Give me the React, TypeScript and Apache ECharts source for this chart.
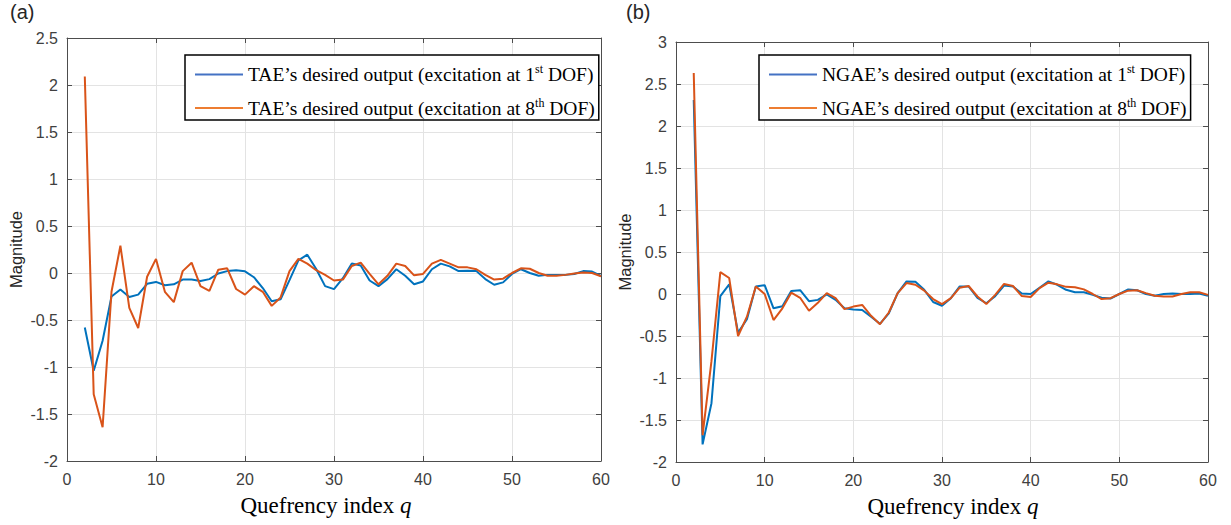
import React, { useEffect, useRef } from "react";
import * as echarts from "echarts";

const qIndex = [2, 3, 4, 5, 6, 7, 8, 9, 10, 11, 12, 13, 14, 15, 16, 17, 18, 19, 20, 21, 22, 23, 24, 25, 26, 27, 28, 29, 30, 31, 32, 33, 34, 35, 36, 37, 38, 39, 40, 41, 42, 43, 44, 45, 46, 47, 48, 49, 50, 51, 52, 53, 54, 55, 56, 57, 58, 59, 60];

const taeDof1 = [-0.58, -1.04, -0.72, -0.25, -0.175, -0.255, -0.23, -0.115, -0.095, -0.13, -0.12, -0.07, -0.07, -0.085, -0.065, -0.005, 0.02, 0.028, 0.018, -0.045, -0.16, -0.3, -0.28, -0.075, 0.135, 0.195, 0.042, -0.14, -0.172, -0.055, 0.1, 0.08, -0.08, -0.14, -0.065, 0.04, -0.03, -0.12, -0.09, 0.04, 0.1, 0.07, 0.02, 0.025, 0.02, -0.065, -0.125, -0.1, -0.01, 0.04, 0.0, -0.03, -0.02, -0.02, -0.02, -0.01, 0.02, 0.015, -0.03];
const taeDof8 = [2.09, -1.29, -1.64, -0.2, 0.29, -0.37, -0.585, -0.04, 0.15, -0.2, -0.31, 0.02, 0.11, -0.14, -0.19, 0.035, 0.05, -0.17, -0.23, -0.14, -0.2, -0.35, -0.26, 0.02, 0.15, 0.1, 0.03, -0.02, -0.08, -0.07, 0.075, 0.11, -0.01, -0.12, -0.03, 0.1, 0.075, -0.025, -0.01, 0.1, 0.14, 0.1, 0.06, 0.06, 0.04, -0.02, -0.07, -0.06, 0.0, 0.05, 0.045, 0.0, -0.03, -0.03, -0.02, -0.005, 0.005, 0.0, -0.035];
const ngaeDof1 = [2.31, -1.79, -1.3, -0.025, 0.115, -0.46, -0.3, 0.09, 0.105, -0.17, -0.145, 0.035, 0.045, -0.085, -0.07, -0.005, -0.07, -0.17, -0.185, -0.19, -0.27, -0.355, -0.23, 0.01, 0.15, 0.145, 0.05, -0.095, -0.14, -0.05, 0.09, 0.09, -0.045, -0.11, -0.025, 0.1, 0.09, 0.005, 0.0, 0.075, 0.15, 0.11, 0.05, 0.02, 0.02, -0.01, -0.045, -0.055, 0.0, 0.055, 0.045, 0.0, -0.02, 0.0, 0.005, 0.0, 0.0, 0.005, -0.02];
const ngaeDof8 = [2.63, -1.68, -0.8, 0.26, 0.19, -0.5, -0.27, 0.09, 0.0, -0.31, -0.17, 0.015, -0.045, -0.2, -0.105, 0.01, -0.05, -0.18, -0.15, -0.13, -0.26, -0.36, -0.22, 0.01, 0.13, 0.11, 0.04, -0.06, -0.12, -0.05, 0.075, 0.095, -0.03, -0.12, -0.01, 0.12, 0.095, -0.025, -0.035, 0.07, 0.135, 0.115, 0.085, 0.08, 0.055, 0.0, -0.06, -0.05, 0.0, 0.04, 0.045, 0.01, -0.02, -0.03, -0.03, 0.0, 0.02, 0.02, -0.01];

const taeNames = [
  "TAE\u2019s desired output (excitation at 1st DOF)",
  "TAE\u2019s desired output (excitation at 8th DOF)",
];
const ngaeNames = [
  "NGAE\u2019s desired output (excitation at 1st DOF)",
  "NGAE\u2019s desired output (excitation at 8th DOF)",
];
const panelLabels = ["(a)", "(b)"];
const yAxisTitle = "Magnitude";
const xAxisTitleText = "Quefrency index ";
const xAxisTitleVar = "q";

const lineColors = ["#0072BD", "#D95319"];
const legendColors = ["#4472C4", "#ED7D31"];

const sansFont = "Liberation Sans";
const serifFont = "Liberation Serif";
const axisColor = "#4d4d4d";
const labelColor = "#404040";
const gridColor = "#e3e3e3";

const legendRich = {
  n: { fontFamily: serifFont, fontSize: 19.5, lineHeight: 23, color: "#000" },
  s: { fontFamily: serifFont, fontSize: 12, lineHeight: 11, verticalAlign: "top", color: "#000" },
};

function legendFormatter(name: string) {
  const m = name.match(/^(.*\d)(st|th)(.*)$/);
  if (!m) return `{n|${name}}`;
  return `{n|${m[1]}}{s|${m[2]}}{n|${m[3]}}`;
}

function toPairs(values: number[]) {
  return qIndex.map((q, i) => [q, values[i]]);
}

export default function App() {
  const ref = useRef<HTMLDivElement>(null);

  useEffect(() => {
    if (!ref.current) return;
    const chart = echarts.init(ref.current, undefined, { renderer: "svg" });

    const grids = [
      { left: 67, top: 38, width: 534, height: 423 },
      { left: 676, top: 42, width: 532, height: 420 },
    ];
    const yRanges = [
      { min: -2, max: 2.5 },
      { min: -2, max: 3 },
    ];
    const titleShift = [
      [0, 16, 0, 0],
      [0, 0, 0, 22],
    ];

    const xAxes: any[] = [];
    const yAxes: any[] = [];
    grids.forEach((_, g) => {
      xAxes.push({
        type: "value",
        gridIndex: g,
        min: 0,
        max: 60,
        interval: 10,
        position: "bottom",
        name: `{n|${xAxisTitleText}}{i|${xAxisTitleVar}}`,
        nameLocation: "middle",
        nameGap: 33,
        nameTextStyle: {
          padding: titleShift[g],
          rich: {
            n: { fontFamily: serifFont, fontSize: 23, color: "#000" },
            i: { fontFamily: serifFont, fontSize: 23, fontStyle: "italic", color: "#000" },
          },
        },
        axisLine: { show: true, onZero: false, lineStyle: { color: axisColor, width: 1 } },
        axisTick: { show: true, inside: true, length: 5, lineStyle: { color: axisColor } },
        axisLabel: { color: labelColor, fontFamily: sansFont, fontSize: 16, margin: 10 },
        splitLine: { show: true, lineStyle: { color: gridColor, width: 1 } },
      });
      xAxes.push({
        type: "value",
        gridIndex: g,
        min: 0,
        max: 60,
        interval: 10,
        position: "top",
        axisLine: { show: true, onZero: false, lineStyle: { color: axisColor, width: 1 } },
        axisTick: { show: true, inside: true, length: 5, lineStyle: { color: axisColor } },
        axisLabel: { show: false },
        splitLine: { show: false },
      });
      yAxes.push({
        type: "value",
        gridIndex: g,
        min: yRanges[g].min,
        max: yRanges[g].max,
        interval: 0.5,
        position: "left",
        name: yAxisTitle,
        nameLocation: "middle",
        nameGap: 43,
        nameRotate: 90,
        nameTextStyle: { fontFamily: sansFont, fontSize: 16.5, color: "#262626" },
        axisLine: { show: true, onZero: false, lineStyle: { color: axisColor, width: 1 } },
        axisTick: { show: true, inside: true, length: 5, lineStyle: { color: axisColor } },
        axisLabel: { color: labelColor, fontFamily: sansFont, fontSize: 16, margin: 9 },
        splitLine: { show: true, lineStyle: { color: gridColor, width: 1 } },
      });
      yAxes.push({
        type: "value",
        gridIndex: g,
        min: yRanges[g].min,
        max: yRanges[g].max,
        interval: 0.5,
        position: "right",
        axisLine: { show: true, onZero: false, lineStyle: { color: axisColor, width: 1 } },
        axisTick: { show: true, inside: true, length: 5, lineStyle: { color: axisColor } },
        axisLabel: { show: false },
        splitLine: { show: false },
      });
    });

    const seriesDefs = [
      { name: taeNames[0], data: taeDof1, g: 0, c: 0 },
      { name: taeNames[1], data: taeDof8, g: 0, c: 1 },
      { name: ngaeNames[0], data: ngaeDof1, g: 1, c: 0 },
      { name: ngaeNames[1], data: ngaeDof8, g: 1, c: 1 },
    ];

    const legendBase = {
      orient: "vertical",
      itemWidth: 48,
      itemHeight: 2,
      itemGap: 12,
      icon: "rect",
      selectedMode: false,
      borderColor: "#000",
      borderWidth: 1.5,
      backgroundColor: "#fff",
      padding: [8, 4, 2, 10],
      formatter: legendFormatter,
      textStyle: { fontFamily: serifFont, fontSize: 19.5, color: "#000", rich: legendRich },
    };

    const option: any = {
      animation: false,
      backgroundColor: "#fff",
      grid: grids,
      xAxis: xAxes,
      yAxis: yAxes,
      legend: [
        {
          ...legendBase,
          left: 185,
          top: 55,
          data: taeNames.map((n, i) => ({ name: n, itemStyle: { color: legendColors[i] } })),
        },
        {
          ...legendBase,
          left: 759,
          top: 55,
          data: ngaeNames.map((n, i) => ({ name: n, itemStyle: { color: legendColors[i] } })),
        },
      ],
      graphic: [
        {
          type: "text",
          left: 10,
          top: 2,
          style: { text: panelLabels[0], fontFamily: sansFont, fontSize: 20, fill: "#262626" },
        },
        {
          type: "text",
          left: 626,
          top: 2,
          style: { text: panelLabels[1], fontFamily: sansFont, fontSize: 20, fill: "#262626" },
        },
      ],
      series: seriesDefs.map((s) => ({
        type: "line",
        name: s.name,
        xAxisIndex: s.g * 2,
        yAxisIndex: s.g * 2,
        data: toPairs(s.data),
        showSymbol: false,
        symbol: "none",
        lineStyle: { color: lineColors[s.c], width: 2 },
        itemStyle: { color: lineColors[s.c] },
        z: 3 + s.c,
      })),
    };

    chart.setOption(option);
    return () => chart.dispose();
  }, []);

  return (
    <div
      ref={ref}
      style={{ position: "fixed", left: 0, top: 0, width: 1231, height: 525, background: "#fff" }}
    />
  );
}
